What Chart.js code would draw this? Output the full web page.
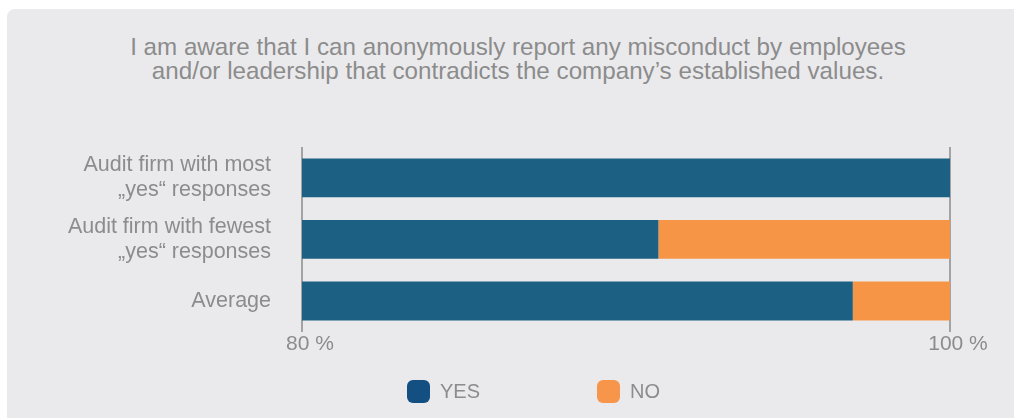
<!DOCTYPE html>
<html>
<head>
<meta charset="utf-8">
<script src="https://cdn.jsdelivr.net/npm/chart.js@4/dist/chart.umd.min.js"></script>
<style>
  html, body { margin: 0; padding: 0; background: #fff; overflow: hidden; }
  #panel { position: absolute; left: 7px; top: 9px; width: 1020px; height: 420px;
           background: #eaeaec; border-radius: 8px; }
  #wrap { position: absolute; left: 0; top: 0; width: 1014px; height: 418px; }
  #title { position: absolute; left: 0; top: 35px; width: 1036px; text-align: center;
           font: 24.2px/24px 'Liberation Sans', Arial, sans-serif; color: #8c8c8c; }
  #legend { position: absolute; left: 407px; top: 380px; display: flex;
            font: 20px 'Liberation Sans', Arial, sans-serif; color: #8c8c8c; }
  #legend .item { display: flex; align-items: center; width: 190px; height: 23px; }
  #legend .box { width: 23px; height: 23px; border-radius: 6px; margin-right: 10px; }
</style>
</head>
<body>
<div id="panel"></div>
<div id="title"></div>
<div id="wrap"><canvas id="chart"></canvas></div>
<div id="legend"></div>
<script>
const TITLE = [
  "I am aware that I can anonymously report any misconduct by employees",
  "and/or leadership that contradicts the company\u2019s established values.",
];
const categories = [
  ["Audit firm with most", "\u201eyes\u201c responses"],
  ["Audit firm with fewest", "\u201eyes\u201c responses"],
  "Average",
];
const yesValues = [100, 91, 97];
const noValues = [0, 9, 3];
const seriesNames = ["YES", "NO"];
const barColors = ["#1c6183", "#f79546"];
const legendColors = ["#134f80", "#f7954a"];
const xTicks = [80, 100];

const GREY = "#8c8c8c";
const FONT = "'Liberation Sans', Arial, sans-serif";

const titleEl = document.getElementById("title");
TITLE.forEach((line, i) => {
  if (i) titleEl.appendChild(document.createElement("br"));
  titleEl.appendChild(document.createTextNode(line));
});

const chart = new Chart(document.getElementById("chart"), {
  type: "bar",
  data: {
    labels: categories,
    datasets: [
      { label: seriesNames[0], data: yesValues, backgroundColor: barColors[0] },
      { label: seriesNames[1], data: noValues, backgroundColor: barColors[1] },
    ],
  },
  options: {
    indexAxis: "y",
    responsive: true,
    maintainAspectRatio: false,
    animation: false,
    barPercentage: 0.9,
    categoryPercentage: 0.7,
    layout: { padding: { left: 0, top: 147, right: 64, bottom: 61 } },
    scales: {
      x: {
        stacked: true,
        min: 80,
        max: 100,
        afterBuildTicks: (axis) => { axis.ticks = xTicks.map((v) => ({ value: v })); },
        grid: { color: "#a3a3a3", lineWidth: 2, drawTicks: false },
        border: { display: false },
        ticks: {
          color: GREY, font: { family: FONT, size: 21 }, padding: 0, labelOffset: 8,
          callback: (v) => v + " %",
        },
      },
      y: {
        stacked: true,
        afterFit: (axis) => { axis.width = 302; },
        grid: { display: false, drawTicks: false },
        border: { display: false },
        ticks: {
          color: GREY, autoSkip: false, padding: 31,
          font: { family: FONT, size: 21.5, lineHeight: 1.14 },
        },
      },
    },
    plugins: {
      legend: { display: false },
      tooltip: { enabled: false },
    },
  },
});

// legend built from the dataset names and swatch colours
const legend = document.getElementById("legend");
chart.data.datasets.forEach((ds, i) => {
  const item = document.createElement("div");
  item.className = "item";
  const box = document.createElement("span");
  box.className = "box";
  box.style.background = legendColors[i];
  item.appendChild(box);
  item.appendChild(document.createTextNode(ds.label));
  legend.appendChild(item);
});
</script>
</body>
</html>
